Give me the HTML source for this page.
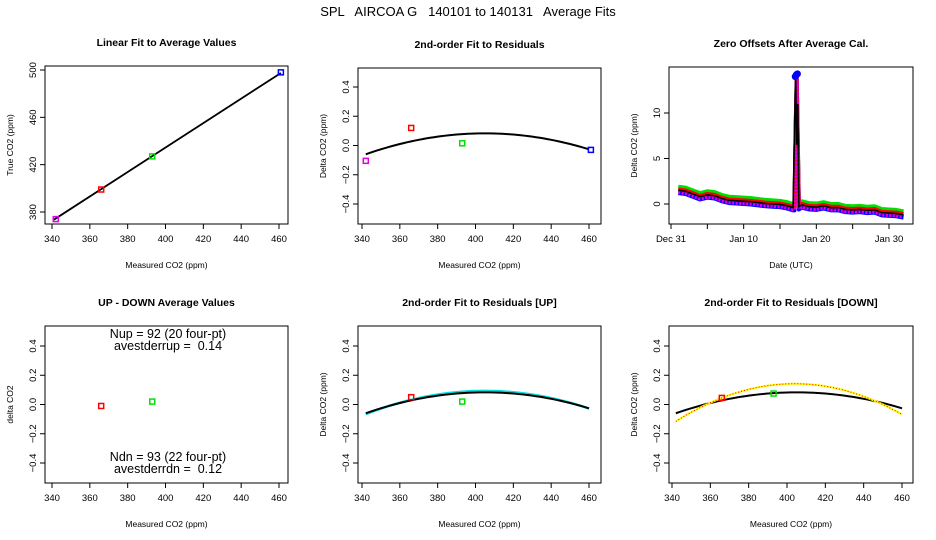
<!DOCTYPE html>
<html><head><meta charset="utf-8"><style>
html,body{margin:0;padding:0;background:#fff;}
svg{display:block;font-family:"Liberation Sans",sans-serif;}
svg text{white-space:pre;}
</style></head><body>
<svg id="c" width="936" height="540" viewBox="0 0 936 540" xmlns="http://www.w3.org/2000/svg" xml:space="preserve">
<text x="468" y="16" text-anchor="middle" font-size="13">SPL   AIRCOA G   140101 to 140131   Average Fits</text>
</svg>
<script>
// ---- data ----
const linMeasured = [342, 366, 393, 461];
const linTrue = [374, 399, 427, 498];
const linColors = ['#e000e0', '#ff0000', '#00e000', '#0000ff'];
const linFit = [[341, 373.5], [461, 497.5]];
const xTicks = [340, 360, 380, 400, 420, 440, 460];
const yTicksLin = [380, 420, 460, 500];
const yTicksRes = [-0.4, -0.2, 0.0, 0.2, 0.4];
const resMeasured = [342, 366, 393, 461];
const resDelta = [-0.105, 0.12, 0.015, -0.03];
const fitCoef = [-3.6e-5, 405, 0.083];        // a, vertex x, vertex y (black fit)
const upCoef = [-4.0e-5, 405, 0.093];          // cyan UP fit
const dnCoef = [-6.7e-5, 404, 0.142];          // orange DOWN fit
const udMeasured = [366, 393];
const udDelta = [-0.01, 0.02];
const upMeasured = [366, 393];
const upDelta = [0.05, 0.02];
const dnMeasured = [366, 393];
const dnDelta = [0.045, 0.075];
const udColors = ['#ff0000', '#00e000'];
// time series (days since Dec 31), black mean and offsets of the colored series
const tsDays = [1, 2, 3, 4, 5, 6, 7, 8, 9, 10, 11, 12, 13, 14, 15, 16, 16.8, 17.0, 17.15, 17.3, 17.45, 17.6, 18, 19, 20, 21, 22, 23, 24, 25, 26, 27, 28, 29, 30, 31, 32];
const tsMean = [1.5, 1.4, 1.1, 0.8, 1.0, 0.9, 0.6, 0.4, 0.35, 0.3, 0.25, 0.15, 0.05, 0.0, -0.05, -0.2, -0.4, 8.0, 14.0, 6.5, 11.0, -0.3, -0.1, -0.3, -0.35, -0.2, -0.4, -0.4, -0.6, -0.65, -0.6, -0.7, -0.65, -0.95, -1.0, -1.05, -1.2];
const tsSeriesNames = ['green', 'blue', 'red', 'magenta'];
const tsSeriesOffsets = [0.4, -0.3, 0.1, -0.2];
const tsSeriesColors = ['#00e000', '#0000ff', '#ff0000', '#e000e0'];
const tsSpikeDays = [17.1, 17.25, 17.4];
const tsSpikeVals = [14.0, 14.2, 14.3];
const dateTickDays = [0, 5, 10, 15, 20, 25, 30];
const dateTickLabels = ['Dec 31', '', 'Jan 10', '', 'Jan 20', '', 'Jan 30'];
const yTicksTs = [0, 5, 10];

const NS = 'http://www.w3.org/2000/svg';
const svg = document.getElementById('c');
function el(tag, attrs, parent, text) {
  const e = document.createElementNS(NS, tag);
  for (const k in attrs) e.setAttribute(k, attrs[k]);
  if (text !== undefined) e.textContent = text;
  (parent || svg).appendChild(e);
  return e;
}
function lin(d0, d1, p0, p1) { return v => p0 + (v - d0) * (p1 - p0) / (d1 - d0); }

function panel(name, box, xs, ys, title, xlab, ylab, xt, xtl, yt) {
  const g = el('g', {});
  
  
  const t = el('text', {x: (box.l + box.r) / 2, y: box.t - 20, 'text-anchor': 'middle', 'font-size': 10.5, 'font-weight': 'bold'}, g, title);
  
  
  const r = el('rect', {x: box.l, y: box.t, width: box.r - box.l, height: box.b - box.t, fill: 'none', stroke: '#000', 'stroke-width': 1}, g);
  
  
  const xa = el('g', {}, g);
  
  
  xt.forEach((v, i) => {
    const x = xs(v);
    el('line', {x1: x, x2: x, y1: box.b, y2: box.b + 5, stroke: '#000'}, xa);
    const lab = xtl ? xtl[i] : String(v);
    if (lab) {
      const tl = el('text', {x: x, y: box.b + 18, 'text-anchor': 'middle', 'font-size': 9.5}, xa, lab);
      
      
    }
  });
  el('line', {x1: xs(xt[0]), x2: xs(xt[xt.length - 1]), y1: box.b, y2: box.b, stroke: '#000'}, xa);
  const xl = el('text', {x: (box.l + box.r) / 2, y: box.b + 44, 'text-anchor': 'middle', 'font-size': 8.5}, g, xlab);
  
  
  const ya = el('g', {}, g);
  
  
  yt.forEach(v => {
    const y = ys(v);
    el('line', {x1: box.l - 5, x2: box.l, y1: y, y2: y, stroke: '#000'}, ya);
    const s = yt.some(q => q % 1 !== 0) ? v.toFixed(1) : String(v);
    const tl = el('text', {x: box.l - 9, y: y, 'text-anchor': 'middle', 'font-size': 9.5, transform: `rotate(-90 ${box.l - 9} ${y})`}, ya, s.replace('-', '\u2212'));
    
    
  });
  el('line', {x1: box.l, x2: box.l, y1: ys(yt[0]), y2: ys(yt[yt.length - 1]), stroke: '#000'}, ya);
  const yx = box.l - 32, yy = (box.t + box.b) / 2;
  const yl = el('text', {x: yx, y: yy, 'text-anchor': 'middle', 'font-size': 8.5, transform: `rotate(-90 ${yx} ${yy})`}, g, ylab);
  
  
  return g;
}
function pt(g, x, y, color, nm) {
  const c = el('rect', {x: x - 2.5, y: y - 2.5, width: 5, height: 5, fill: 'none', stroke: color, 'stroke-width': 1.5}, g);
  
  
}
function curve(g, coef, xs, ys, color, w, nm, dash) {
  const a = [];
  for (let m = 342; m <= 460; m += 2) a.push(xs(m) + ',' + ys(coef[0] * (m - coef[1]) ** 2 + coef[2]));
  const p = el('polyline', {points: a.join(' '), fill: 'none', stroke: color, 'stroke-width': w}, g);
  if (dash) p.setAttribute('stroke-dasharray', dash);
  
  
}

// Panel 1
{
  const box = {l: 45, r: 288, t: 66, b: 224};
  const xs = lin(340, 460, 52, 279), ys = lin(380, 500, 212, 70);
  const g = panel('linear-fit-panel', box, xs, ys, 'Linear Fit to Average Values', 'Measured CO2 (ppm)', 'True CO2 (ppm)', xTicks, null, yTicksLin);
  const l = el('line', {x1: xs(linFit[0][0]), y1: ys(linFit[0][1]), x2: xs(linFit[1][0]), y2: ys(linFit[1][1]), stroke: '#000', 'stroke-width': 1.8}, g);
  
  
  linMeasured.forEach((m, i) => pt(g, xs(m), ys(linTrue[i]), linColors[i], 'data-point'));
}
// Panel 2
{
  const box = {l: 358, r: 601, t: 68, b: 224};
  const xs = lin(340, 460, 362, 589), ys = lin(-0.4, 0.4, 204, 87);
  const g = panel('residual-fit-panel', box, xs, ys, '2nd-order Fit to Residuals', 'Measured CO2 (ppm)', 'Delta CO2 (ppm)', xTicks, null, yTicksRes);
  curve(g, fitCoef, xs, ys, '#000', 2, 'fit-curve');
  resMeasured.forEach((m, i) => pt(g, xs(m), ys(resDelta[i]), linColors[i], 'residual-point'));
}
// Panel 3 time series
{
  const box = {l: 669, r: 913, t: 67, b: 224};
  const xs = lin(0, 30, 671, 889), ys = lin(0, 10, 204, 113);
  const g = panel('zero-offsets-panel', box, xs, ys, 'Zero Offsets After Average Cal.', 'Date (UTC)', 'Delta CO2 (ppm)', dateTickDays, dateTickLabels, yTicksTs);
  tsSeriesOffsets.forEach((off, si) => {
    const pts = tsDays.map((d, i) => xs(d) + ',' + ys(tsMean[i] > 2 ? tsMean[i - 1] + off : tsMean[i] + off)).join(' ');
    const p = el('polyline', {points: pts, fill: 'none', stroke: tsSeriesColors[si], 'stroke-width': 4, 'stroke-linejoin': 'round', 'stroke-dasharray': si === 3 ? '2,1.5' : 'none'}, g);
    
    
  });
  const pts = tsDays.map((d, i) => xs(d) + ',' + ys(tsMean[i])).join(' ');
  const p = el('polyline', {points: pts, fill: 'none', stroke: '#000', 'stroke-width': 1.6}, g);
  
  
  tsSpikeDays.forEach((d, i) => {
    const c = el('circle', {cx: xs(d), cy: ys(tsSpikeVals[i]), r: 3.5, fill: '#0000ff'}, g);
    
    
  });
}
// Panel 4
{
  const box = {l: 45, r: 288, t: 326, b: 483};
  const xs = lin(340, 460, 52, 279), ys = lin(-0.4, 0.4, 463, 346);
  const g = panel('up-down-panel', box, xs, ys, 'UP - DOWN Average Values', 'Measured CO2 (ppm)', 'delta CO2', xTicks, null, yTicksRes);
  udMeasured.forEach((m, i) => pt(g, xs(m), ys(udDelta[i]), udColors[i], 'up-down-point'));
  [['Nup = 92 (20 four-pt)', 338, 'n-up-label'], ['avestderrup =  0.14', 350, 'stderr-up-label'], ['Ndn = 93 (22 four-pt)', 461, 'n-down-label'], ['avestderrdn =  0.12', 473, 'stderr-down-label']].forEach(a => {
    const t = el('text', {x: 168, y: a[1], 'text-anchor': 'middle', 'font-size': 12.5}, g, a[0]);
    
    
  });
}
// Panel 5
{
  const box = {l: 358, r: 601, t: 326, b: 483};
  const xs = lin(340, 460, 362, 589), ys = lin(-0.4, 0.4, 463, 346);
  const g = panel('residual-up-panel', box, xs, ys, '2nd-order Fit to Residuals [UP]', 'Measured CO2 (ppm)', 'Delta CO2 (ppm)', xTicks, null, yTicksRes);
  curve(g, upCoef, xs, ys, '#00e0e0', 2.5, 'up-fit-curve');
  curve(g, fitCoef, xs, ys, '#000', 2, 'fit-curve');
  upMeasured.forEach((m, i) => pt(g, xs(m), ys(upDelta[i]), udColors[i], 'up-point'));
}
// Panel 6
{
  const box = {l: 669, r: 913, t: 326, b: 483};
  const xs = lin(340, 460, 672, 902), ys = lin(-0.4, 0.4, 463, 346);
  const g = panel('residual-down-panel', box, xs, ys, '2nd-order Fit to Residuals [DOWN]', 'Measured CO2 (ppm)', 'Delta CO2 (ppm)', xTicks, null, yTicksRes);
  curve(g, fitCoef, xs, ys, '#000', 2, 'fit-curve');
  curve(g, dnCoef, xs, ys, '#ffff00', 2, 'down-fit-curve');
  curve(g, dnCoef, xs, ys, '#ff0000', 1, 'down-fit-curve-dashed', '1,2');
  dnMeasured.forEach((m, i) => pt(g, xs(m), ys(dnDelta[i]), udColors[i], 'down-point'));
}
</script>
</body></html>
